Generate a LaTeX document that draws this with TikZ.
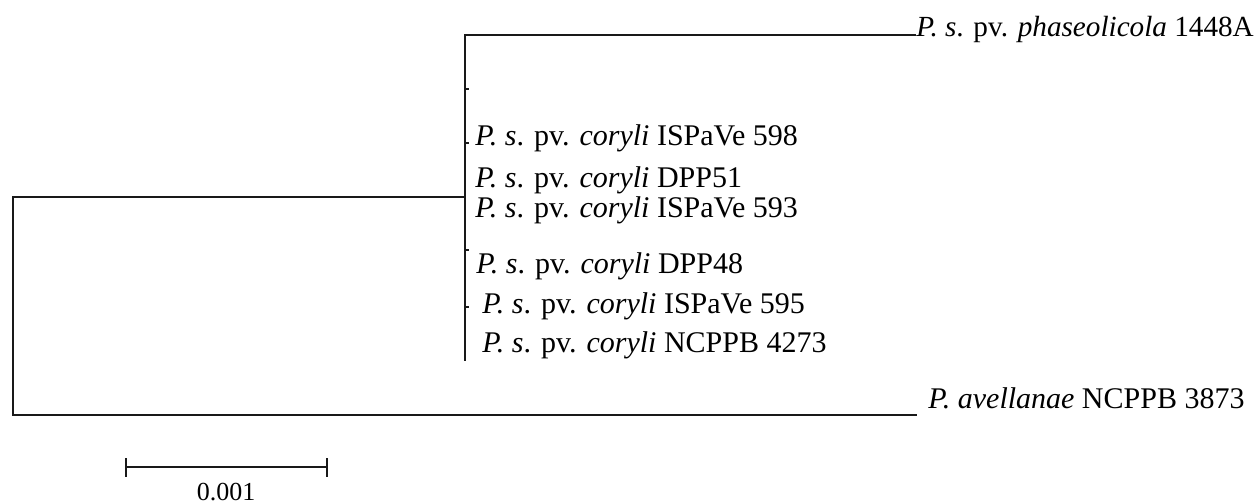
\documentclass[tikz,border=0pt]{standalone}
\usepackage{fontspec}
\setmainfont{Liberation Serif}
\begin{document}
\begin{tikzpicture}[x=0.5pt,y=-0.5pt,
  branch/.style={line width=1.4pt, black!90, line cap=rect},
  tickmark/.style={line width=1.1pt, black!90},
  lab/.style={anchor=base west, inner sep=0pt, font=\fontsize{15}{17}\selectfont},
  scalelab/.style={anchor=base, inner sep=0pt, font=\fontsize{13}{15}\selectfont}]
\useasboundingbox (0,0) rectangle (1260,504);
% coordinates
\coordinate (rtop) at (13,197);
\coordinate (rbot) at (13,415);
\coordinate (ijn) at (465,197);
\coordinate (itop) at (465,35);
\coordinate (ibot) at (465,360);
\coordinate (tphas) at (915,35);
\coordinate (tavel) at (916,415);
\coordinate (k1) at (465,89);  \coordinate (k1e) at (469,89);
\coordinate (k2) at (465,143); \coordinate (k2e) at (469,143);
\coordinate (k3) at (465,250); \coordinate (k3e) at (469,250);
\coordinate (k4) at (465,307); \coordinate (k4e) at (469,307);
\coordinate (sbl) at (126,467);
\coordinate (sbr) at (327,467);
\coordinate (sblt) at (126,458); \coordinate (sblb) at (126,477);
\coordinate (sbrt) at (327,458); \coordinate (sbrb) at (327,477);
% labels
\node[lab, font=\fontsize{14.6}{17}\selectfont] (phas) at (916,36) {\textit{P. s}. pv. \textit{phaseolicola} 1448A};
\node[lab] (c598) at (475,145) {\textit{P. s}. pv. \textit{coryli} ISPaVe 598};
\node[lab] (c51) at (475,187) {\textit{P. s}. pv. \textit{coryli} DPP51};
\node[lab] (c593) at (475,217) {\textit{P. s}. pv. \textit{coryli} ISPaVe 593};
\node[lab] (c48) at (476,273) {\textit{P. s}. pv. \textit{coryli} DPP48};
\node[lab] (c595) at (482,313) {\textit{P. s}. pv. \textit{coryli} ISPaVe 595};
\node[lab] (c4273) at (482,352) {\textit{P. s}. pv. \textit{coryli} NCPPB 4273};
\node[lab] (avel) at (928,408) {\textit{P. avellanae} NCPPB 3873};
\node[scalelab] (sc) at (226,500) {0.001};
% branches
\draw[branch] (rtop) -- (rbot);
\draw[branch] (rtop) -- (ijn);
\draw[branch] (rbot) -- (tavel);
\draw[branch] (itop) -- (ibot);
\draw[branch] (itop) -- (tphas);
\draw[tickmark] (k1) -- (k1e);
\draw[tickmark] (k2) -- (k2e);
\draw[tickmark] (k3) -- (k3e);
\draw[tickmark] (k4) -- (k4e);
% scale bar
\draw[branch, line cap=butt] (sbl) -- (sbr);
\draw[branch, line cap=butt] (sblt) -- (sblb);
\draw[branch, line cap=butt] (sbrt) -- (sbrb);
\end{tikzpicture}
\end{document}
